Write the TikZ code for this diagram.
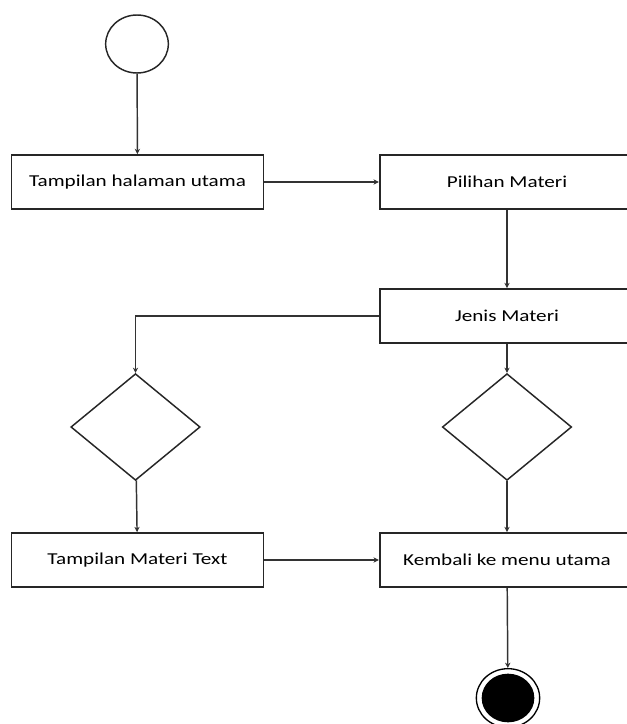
\documentclass[tikz,border=0pt]{standalone}
\usepackage{fontspec}
\setmainfont{Carlito}
\usetikzlibrary{shapes.geometric,arrows.meta}

\tikzset{every picture/.style={line width=0.75pt}}
\tikzset{
  actbox/.style={draw=black!85, line width=1.3pt, rectangle, minimum width=189pt, minimum height=40.5pt, inner sep=0pt, font=\fontsize{12.5}{15}\selectfont},
  choice/.style={draw=black!85, line width=1.1pt, diamond, minimum width=97pt, minimum height=80pt, inner sep=0pt},
  flow/.style={draw=black!80, line width=1.1pt, -{Stealth[length=4pt,width=4pt]}}
}
\newcommand{\lbl}[1]{\scalebox{1.27}[1]{#1}}

\begin{document}
\begin{tikzpicture}[x=0.75pt,y=0.75pt,yscale=-1,xscale=1]
\useasboundingbox (0,0) rectangle (627,724);

%Shape: Ellipse [start]
\node [draw=black!85, line width=1.1pt, ellipse, minimum width=47pt, minimum height=43.5pt, inner sep=0pt] (start) at (137,44) {};

%Shape: Rectangle [home]
\node [actbox] (home) at (137.5,182) {\lbl{Tampilan halaman utama}};
%Shape: Rectangle [pilihan]
\node [actbox, minimum width=191pt] (pilihan) at (507,182) {\lbl{Pilihan Materi}};
%Shape: Rectangle [jenis]
\node [actbox, minimum width=191pt] (jenis) at (507,316) {\lbl{Jenis Materi}};

%Shape: Diamond [left, right]
\node [choice] (dleft) at (135.5,427) {};
\node [choice] (dright) at (507,427) {};

%Shape: Rectangle [teks]
\node [actbox] (teks) at (137.5,560) {\lbl{Tampilan Materi Text}};
%Shape: Rectangle [kembali]
\node [actbox, minimum width=191pt] (kembali) at (507,560) {\lbl{Kembali ke menu utama}};

%Shape: Final state
\node [draw=black, line width=1pt, ellipse, minimum width=47.5pt, minimum height=44pt, inner sep=0pt] (stop) at (508,698) {};
\node [fill=black, ellipse, minimum width=39.5pt, minimum height=36.5pt, inner sep=0pt] (stopdot) at (stop.center) {};

% Connectors
\draw [flow] (start) -- (home);
\draw [flow] (home) -- (pilihan);
\draw [flow] (pilihan) -- (jenis);
\draw [flow] (jenis.west) -| (dleft.north);
\draw [flow] (jenis) -- (dright);
\draw [flow] (dleft) -- (teks);
\draw [flow] (dright) -- (kembali);
\draw [flow] (teks) -- (kembali);
\draw [flow] (kembali) -- (stop);

\end{tikzpicture}
\end{document}
